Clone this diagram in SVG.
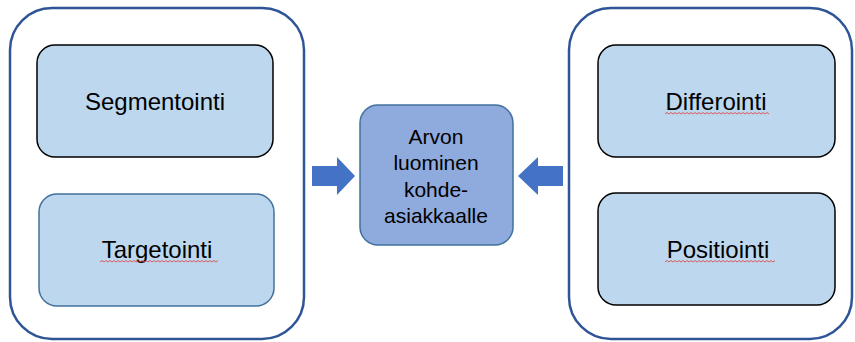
<svg xmlns="http://www.w3.org/2000/svg" width="855" height="342" viewBox="0 0 855 342">
  <style>
    .outer { fill: #ffffff; stroke: #2f5597; stroke-width: 2.5; }
    .box { fill: #bdd7ee; stroke: #000000; stroke-width: 1.5; }
    .box-blue { fill: #bdd7ee; stroke: #41719c; stroke-width: 1.5; }
    .core { fill: #8faadc; stroke: #41719c; stroke-width: 1.5; }
    .lbl { font-family: "Liberation Sans", Arial, sans-serif; font-size: 24px; fill: #000000; text-anchor: middle; }
    .core-lbl { font-family: "Liberation Sans", Arial, sans-serif; font-size: 21px; fill: #000000; text-anchor: middle; }
    .arrow { fill: #4472c4; }
    .squiggle { fill: none; stroke: #e23a3a; stroke-width: 0.8; }
  </style>

  <rect width="855" height="342" fill="#ffffff"/>

  <!-- left column -->
  <g id="left-group">
    <rect class="outer" x="10" y="8" width="294" height="331" rx="42" ry="42"/>
  </g>
  <g id="segmentointi">
    <rect class="box" x="37" y="45" width="236" height="112" rx="18" ry="18"/>
    <text class="lbl" x="155" y="110">Segmentointi</text>
  </g>
  <g id="targetointi">
    <rect class="box-blue" x="39" y="194" width="235" height="112" rx="18" ry="18"/>
    <text class="lbl" x="157" y="258">Targetointi</text>
    <path class="squiggle" d="M100 262 l2 -1.5 l2 1.5 l2 -1.5 l2 1.5 l2 -1.5 l2 1.5 l2 -1.5 l2 1.5 l2 -1.5 l2 1.5 l2 -1.5 l2 1.5 l2 -1.5 l2 1.5 l2 -1.5 l2 1.5 l2 -1.5 l2 1.5 l2 -1.5 l2 1.5 l2 -1.5 l2 1.5 l2 -1.5 l2 1.5 l2 -1.5 l2 1.5 l2 -1.5 l2 1.5 l2 -1.5 l2 1.5 l2 -1.5 l2 1.5 l2 -1.5 l2 1.5 l2 -1.5 l2 1.5 l2 -1.5 l2 1.5 l2 -1.5 l2 1.5 l2 -1.5 l2 1.5 l2 -1.5 l2 1.5 l2 -1.5 l2 1.5 l2 -1.5 l2 1.5 l2 -1.5 l2 1.5 l2 -1.5 l2 1.5 l2 -1.5 l2 1.5 l2 -1.5 l2 1.5 l2 -1.5 l2 1.5 l2 -1.5"/>
  </g>

  <!-- right column -->
  <g id="right-group">
    <rect class="outer" x="569" y="8" width="283" height="331" rx="42" ry="42"/>
  </g>
  <g id="differointi">
    <rect class="box" x="598" y="45" width="237" height="112" rx="18" ry="18"/>
    <text class="lbl" x="716" y="110">Differointi</text>
    <path class="squiggle" d="M665 114 l2 -1.5 l2 1.5 l2 -1.5 l2 1.5 l2 -1.5 l2 1.5 l2 -1.5 l2 1.5 l2 -1.5 l2 1.5 l2 -1.5 l2 1.5 l2 -1.5 l2 1.5 l2 -1.5 l2 1.5 l2 -1.5 l2 1.5 l2 -1.5 l2 1.5 l2 -1.5 l2 1.5 l2 -1.5 l2 1.5 l2 -1.5 l2 1.5 l2 -1.5 l2 1.5 l2 -1.5 l2 1.5 l2 -1.5 l2 1.5 l2 -1.5 l2 1.5 l2 -1.5 l2 1.5 l2 -1.5 l2 1.5 l2 -1.5 l2 1.5 l2 -1.5 l2 1.5 l2 -1.5 l2 1.5 l2 -1.5 l2 1.5 l2 -1.5 l2 1.5 l2 -1.5 l2 1.5 l2 -1.5 l2 1.5"/>
  </g>
  <g id="positiointi">
    <rect class="box" x="598" y="193" width="237" height="112" rx="18" ry="18"/>
    <text class="lbl" x="718" y="258">Positiointi</text>
    <path class="squiggle" d="M665 262 l2 -1.5 l2 1.5 l2 -1.5 l2 1.5 l2 -1.5 l2 1.5 l2 -1.5 l2 1.5 l2 -1.5 l2 1.5 l2 -1.5 l2 1.5 l2 -1.5 l2 1.5 l2 -1.5 l2 1.5 l2 -1.5 l2 1.5 l2 -1.5 l2 1.5 l2 -1.5 l2 1.5 l2 -1.5 l2 1.5 l2 -1.5 l2 1.5 l2 -1.5 l2 1.5 l2 -1.5 l2 1.5 l2 -1.5 l2 1.5 l2 -1.5 l2 1.5 l2 -1.5 l2 1.5 l2 -1.5 l2 1.5 l2 -1.5 l2 1.5 l2 -1.5 l2 1.5 l2 -1.5 l2 1.5 l2 -1.5 l2 1.5 l2 -1.5 l2 1.5 l2 -1.5 l2 1.5 l2 -1.5 l2 1.5 l2 -1.5 l2 1.5 l2 -1.5"/>
  </g>

  <!-- centre -->
  <g id="arvon-luominen">
    <rect class="core" x="360" y="105" width="153" height="140" rx="18" ry="18"/>
    <text class="core-lbl" x="436" y="144">Arvon</text>
    <text class="core-lbl" x="436" y="170">luominen</text>
    <text class="core-lbl" x="436" y="197">kohde-</text>
    <text class="core-lbl" x="436" y="223">asiakkaalle</text>
  </g>

  <!-- block arrows -->
  <g id="connectors">
    <polygon class="arrow" points="312,166 337,166 337,157 355,176 337,195 337,186 312,186"/>
    <polygon class="arrow" points="563,166 538,166 538,157 518,176 538,195 538,186 563,186"/>
  </g>
</svg>
